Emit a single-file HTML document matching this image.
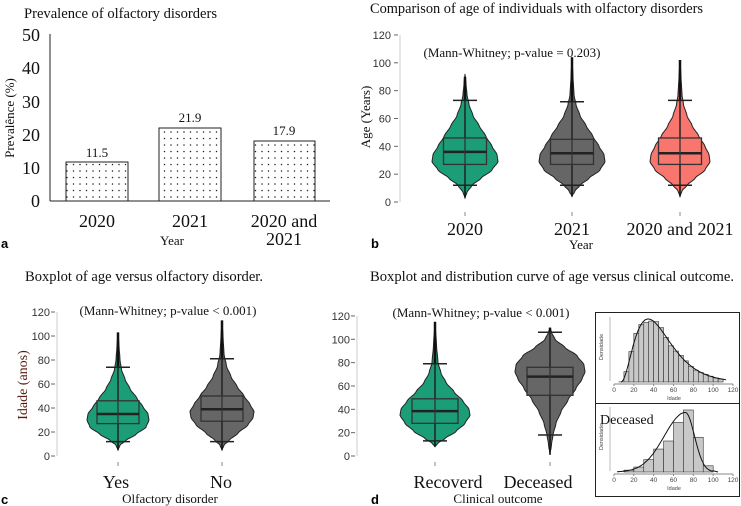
<!DOCTYPE html>
<html><head><meta charset="utf-8">
<style>
html,body{margin:0;padding:0;background:#fff;}
svg{display:block;}
.s{font-family:"Liberation Serif",serif;fill:#111;}
.a{font-family:"Liberation Sans",sans-serif;fill:#333;font-size:11px;}
</style></head>
<body>
<svg id="sv" width="741" height="506" viewBox="0 0 741 506" xmlns="http://www.w3.org/2000/svg">
<defs>
<pattern id="dots" width="6.5" height="6.5" patternUnits="userSpaceOnUse">
<rect width="6.5" height="6.5" fill="#fff"/>
<circle cx="2" cy="2" r="0.75" fill="#222"/>
</pattern>
</defs>
<!-- Panel a -->
<text class="s" x="24" y="18" font-size="15" textLength="193" lengthAdjust="spacingAndGlyphs">Prevalence of olfactory disorders</text>
<line x1="50" y1="34" x2="50" y2="201" stroke="#222" stroke-width="1"/>
<line x1="50" y1="201" x2="330" y2="201" stroke="#222" stroke-width="1"/>
<g class="s" font-size="18" text-anchor="end">
<text x="40" y="41">50</text><text x="40" y="74">40</text><text x="40" y="108">30</text>
<text x="40" y="141">20</text><text x="40" y="174">10</text><text x="40" y="207">0</text>
</g>
<text class="s" font-size="13" transform="translate(14,118) rotate(-90)" text-anchor="middle">Prevalênce (%)</text>
<rect x="66" y="162" width="62" height="39" fill="url(#dots)" stroke="#222"/>
<rect x="159" y="128" width="62" height="73" fill="url(#dots)" stroke="#222"/>
<rect x="254" y="141" width="61" height="60" fill="url(#dots)" stroke="#222"/>
<g class="s" font-size="13" text-anchor="middle">
<text x="97" y="157">11.5</text><text x="190" y="122">21.9</text><text x="284" y="135">17.9</text>
</g>
<g class="s" font-size="18" text-anchor="middle">
<text x="97" y="227">2020</text><text x="190" y="227">2021</text><text x="284" y="227">2020 and</text><text x="284" y="245">2021</text>
</g>
<text class="s" x="172" y="245" font-size="13" text-anchor="middle">Year</text>
<text x="1" y="248" font-family="Liberation Sans,sans-serif" font-weight="bold" font-size="13">a</text>

<!-- Panel b -->
<text class="s" x="370" y="13" font-size="15" textLength="333" lengthAdjust="spacingAndGlyphs">Comparison of age of individuals  with olfactory disorders</text>
<text class="s" font-size="13" transform="translate(370,117) rotate(-90)" text-anchor="middle">Age (Years)</text>
<text class="s" x="512" y="57" font-size="13" text-anchor="middle">(Mann-Whitney; p-value = 0.203)</text>
<g class="s" font-size="18" text-anchor="middle">
<text x="465" y="235">2020</text><text x="572" y="235">2021</text><text x="680" y="235">2020 and 2021</text>
</g>
<text class="s" x="581" y="249" font-size="13" text-anchor="middle">Year</text>
<text x="371" y="248" font-family="Liberation Sans,sans-serif" font-weight="bold" font-size="13">b</text>

<!-- Panel c -->
<text class="s" x="25" y="281" font-size="15" textLength="238" lengthAdjust="spacingAndGlyphs">Boxplot  of age versus olfactory disorder.</text>
<text class="s" x="168" y="315" font-size="13" text-anchor="middle">(Mann-Whitney; p-value &lt; 0.001)</text>
<text class="s" font-size="14" style="fill:#5a1a10" transform="translate(27,385) rotate(-90)" text-anchor="middle">Idade (anos)</text>
<g class="s" font-size="18" text-anchor="middle">
<text x="116" y="488">Yes</text><text x="221" y="488">No</text>
</g>
<text class="s" x="170" y="503" font-size="13" text-anchor="middle">Olfactory disorder</text>
<text x="1" y="504" font-family="Liberation Sans,sans-serif" font-weight="bold" font-size="13">c</text>

<!-- Panel d -->
<text class="s" x="370" y="281" font-size="15" textLength="364" lengthAdjust="spacingAndGlyphs">Boxplot and distribution  curve of age versus clinical outcome.</text>
<text class="s" x="481" y="317" font-size="13" text-anchor="middle">(Mann-Whitney; p-value &lt; 0.001)</text>
<g class="s" font-size="18" text-anchor="middle">
<text x="448" y="488">Recoverd</text><text x="538" y="488">Deceased</text>
</g>
<text class="s" x="498" y="503" font-size="13" text-anchor="middle">Clinical  outcome</text>
<text x="371" y="504" font-family="Liberation Sans,sans-serif" font-weight="bold" font-size="13">d</text>

<!-- inset -->
<rect x="595.5" y="312.5" width="144" height="184" fill="#fff" stroke="#222"/>
<line x1="595" y1="403.5" x2="740" y2="403.5" stroke="#222"/>
<g id="ins"></g>
<text class="s" x="600" y="424" font-size="14">Deceased</text>
<g id="gen"></g>
</svg>
<script>
const NS="http://www.w3.org/2000/svg";
const G=document.getElementById('gen');
function el(t,a,p){const e=document.createElementNS(NS,t);for(const k in a)e.setAttribute(k,a[k]);(p||G).appendChild(e);return e;}
function txt(x,y,s,a,p){const e=el('text',Object.assign({x:x,y:y},a),p);e.textContent=s;return e;}
function interp(prof,age){for(let i=0;i<prof.length-1;i++){const[a0,w0]=prof[i],[a1,w1]=prof[i+1];if(age>=a0&&age<=a1){const t=(age-a0)/(a1-a0);const s=t*t*(3-2*t);return w0+(w1-w0)*(0.5*t+0.5*s);}}return 0;}
function axis(x,y0,k,lx){
  el('line',{x1:x,y1:y0,x2:x,y2:y0-120*k,stroke:'#ccc','stroke-width':1});
  for(let v=0;v<=120;v+=20){const y=y0-v*k;el('line',{x1:x-6,y1:y,x2:x-2,y2:y,stroke:'#666'});txt(lx,y+4,v,{class:'a','text-anchor':'end'});}
}
function violin(cx,y0,k,prof,fill,box,bw,tickY){
  const lo=prof[0][0],hi=prof[prof.length-1][0];
  let L=[],R=[];
  for(let a=lo;a<=hi;a+=0.5){const w=interp(prof,a);const y=y0-a*k;R.push([cx+w,y]);L.push([cx-w,y]);}
  const pts=R.concat(L.reverse());
  el('path',{d:'M'+pts.map(p=>p[0].toFixed(1)+','+p[1].toFixed(1)).join('L')+'Z',fill:fill,stroke:'#222','stroke-width':1});
  const [wl,q1,md,q3,wh,mx,mn]=box;
  const Y=a=>y0-a*k;
  el('line',{x1:cx,y1:Y(wh),x2:cx,y2:Y(mx),stroke:'#111','stroke-width':2.5});
  el('line',{x1:cx,y1:Y(mn),x2:cx,y2:Y(wl),stroke:'#111','stroke-width':1.5});
  el('line',{x1:cx,y1:Y(wl),x2:cx,y2:Y(wh),stroke:'#222','stroke-width':1.5});
  el('line',{x1:cx-12,y1:Y(wl),x2:cx+12,y2:Y(wl),stroke:'#222','stroke-width':1.5});
  el('line',{x1:cx-12,y1:Y(wh),x2:cx+12,y2:Y(wh),stroke:'#222','stroke-width':1.5});
  el('rect',{x:cx-bw,y:Y(q3),width:2*bw,height:Y(q1)-Y(q3),fill:fill,stroke:'#333','stroke-width':1.3});
  el('line',{x1:cx-bw,y1:Y(md),x2:cx+bw,y2:Y(md),stroke:'#222','stroke-width':2.5});
  el('line',{x1:cx,y1:Y(q3),x2:cx,y2:Y(q1),stroke:'#333','stroke-width':1.3});
  el('line',{x1:cx,y1:tickY,x2:cx,y2:tickY+4,stroke:'#888'});
}
const GR='#1b9e77',GY='#666666',RD='#f8766d';
axis(400,202,1.392,391);
const pb=[[3,0],[7,2],[12,7],[17,16],[23,27],[29,33],[34,32],[40,27],[47,21],[55,14],[62,8],[70,4],[77,2],[85,1],[92,0]];
violin(465,202,1.392,pb,GR,[12,27,36,46,73,90,3],21.5,212);
const pb2=[[4,0],[8,3],[12,8],[17,17],[23,28],[29,33],[34,32],[40,27],[47,21],[55,14],[62,8],[70,4],[77,2],[90,1],[104,0]];
violin(572,202,1.392,pb2,GY,[12,27,35,45,72,104,4],21.5,212);
const pb3=[[4,0],[8,2],[12,7],[17,15],[23,25],[29,30],[34,29],[40,25],[47,19],[55,12],[62,7],[70,3.5],[77,2],[90,1],[102,0]];
violin(680,202,1.392,pb3,RD,[12,27,35,46,73,102,4],21.5,212);
axis(57,456,1.2,50);
const pc1=[[5,0],[9,2],[13,8],[18,18],[24,28],[30,31],[35,30],[41,25],[48,19],[56,12],[64,7],[72,3.5],[80,2],[92,1],[103,0]];
violin(118,456,1.2,pc1,GR,[12,27,35,46,74,103,5],21,462);
const pc2=[[5,0],[9,2],[13,7],[19,16],[26,26],[32,31],[37,32],[43,28],[50,22],[58,15],[66,9],[75,4.5],[85,2],[100,1],[113,0]];
violin(222,456,1.2,pc2,GY,[12,29,39,50,81,113,5],21,462);
axis(357,456,1.167,350);
const pd1=[[8,0],[11,3],[15,10],[21,21],[28,30],[35,35],[40,34],[47,28],[55,19],[63,11],[71,6],[80,3],[95,1.5],[115,0]];
violin(435,456,1.167,pd1,GR,[13,28,38.5,49,79,115,8],23,462);
const pd2=[[1,0],[10,1.5],[18,3],[28,6],[38,11],[48,18],[58,26],[66,32],[72,35],[78,34],[86,27],[93,15],[100,5],[106,1.5],[110,0]];
violin(550,456,1.167,pd2,GY,[18,52,68,76,106,110,1],23,462);
const I=document.getElementById('ins');
function hist(base,ticksY){
  const X=a=>614+a*(119/120);
  el('line',{x1:610,y1:base-65,x2:610,y2:base-1,stroke:'#bbb'},I);
  el('line',{x1:X(0),y1:base+2,x2:X(120),y2:base+2,stroke:'#888'},I);
  for(let v=0;v<=120;v+=20){el('line',{x1:X(v),y1:base+2,x2:X(v),y2:base+4,stroke:'#888'},I);txt(X(v),ticksY,v,{'font-family':'Liberation Sans,sans-serif','font-size':'6.5',fill:'#444','text-anchor':'middle'},I);}
  txt(674,ticksY+8,'Idade',{'font-family':'Liberation Sans,sans-serif','font-size':'5.5',fill:'#444','text-anchor':'middle'},I);
  txt(0,0,'Densidade',{'font-family':'Liberation Sans,sans-serif','font-size':'5.5',fill:'#444','text-anchor':'middle',transform:'translate(603,'+(base-35)+') rotate(-90)'},I);
  return X;
}
function dens1(a){ if(a<7)return 0; const x=(a-7); return Math.pow(x,2.2)*Math.exp(-x/12.5);}
function dens2(a){ if(a>=100)return Math.max(0,0.02*(1-(a-100)/5)); return Math.exp(-Math.pow((a-72)/(a<72?30:13),2)); }
(function(){
  const base=382,X=hist(base,392);
  let mx=0;for(let a=0;a<120;a+=0.5)mx=Math.max(mx,dens1(a));
  const H=63;
  for(let a=5;a<110;a+=5){const d=dens1(a+2.5)/mx*H*(1+0.05*Math.sin(a));el('rect',{x:X(a),y:base-d,width:X(5)-X(0),height:d,fill:'#c8c8c8',stroke:'#333','stroke-width':0.6},I);}
  let p='';for(let a=7;a<=113;a+=1){p+=(p?'L':'M')+X(a).toFixed(1)+','+(base-dens1(a)/mx*H).toFixed(1);}
  el('path',{d:p,fill:'none',stroke:'#111','stroke-width':1},I);
})();
(function(){
  const base=472,X=hist(base,482);
  const H=62;
  const bars=[[10,0.03],[20,0.08],[30,0.2],[40,0.37],[50,0.5],[60,0.8],[70,1.0],[80,0.56],[90,0.1]];
  bars.forEach(([a,h])=>el('rect',{x:X(a),y:base-h*H,width:X(10)-X(0),height:h*H,fill:'#c8c8c8',stroke:'#333','stroke-width':0.6},I));
  let p='';for(let a=3;a<=105;a+=1){p+=(p?'L':'M')+X(a).toFixed(1)+','+(base-dens2(a)*H*0.96).toFixed(1);}
  el('path',{d:p,fill:'none',stroke:'#111','stroke-width':1},I);
})();
</script>
</body></html>
